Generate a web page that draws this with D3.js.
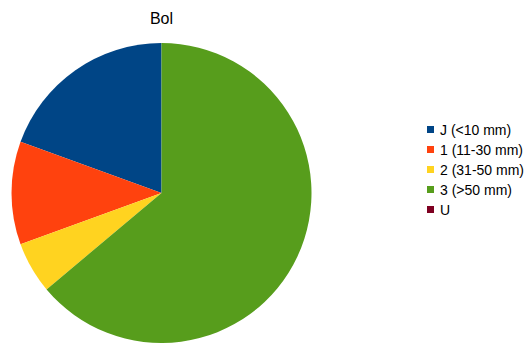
<!DOCTYPE html>
<html><head><meta charset="utf-8">
<script src="https://cdn.jsdelivr.net/npm/d3@7"></script>
<style>body{margin:0;background:#fff}svg{display:block}</style>
</head><body>
<script>
const categories = ["J (<10 mm)", "1 (11-30 mm)", "2 (31-50 mm)", "3 (>50 mm)", "U"];
const values = [7, 4, 2, 23, 0];
const colors = ["#004586", "#ff420e", "#ffd320", "#579d1c", "#7e0021"];
const title = "Bol";

const W = 525, H = 343;
const svg = d3.select("body").append("svg").attr("width", W).attr("height", H);
const font = "'Liberation Sans', Arial, sans-serif";

svg.append("text").attr("x", 161.5).attr("y", 24).attr("text-anchor", "middle")
  .attr("font-family", font).attr("font-size", 16).attr("fill", "#000").text(title);

const cx = 161.5, cy = 193, r = 150;
const pie = d3.pie().sort(null).value(d => d)
  .startAngle(0).endAngle(-2 * Math.PI);
const arc = d3.arc().innerRadius(0).outerRadius(r);
const g = svg.append("g").attr("transform", `translate(${cx},${cy})`);
g.selectAll("path").data(pie(values)).enter().append("path")
  .attr("d", arc).attr("fill", (d, i) => colors[i]);

const lg = svg.append("g");
categories.forEach((c, i) => {
  const y = 129.5 + i * 20;
  lg.append("rect").attr("x", 427).attr("y", y - 3.5).attr("width", 7).attr("height", 7).attr("fill", colors[i]);
  lg.append("text").attr("x", 440).attr("y", y + 5).attr("font-family", font)
    .attr("font-size", 14).attr("fill", "#000").text(c);
});
</script>
</body></html>
